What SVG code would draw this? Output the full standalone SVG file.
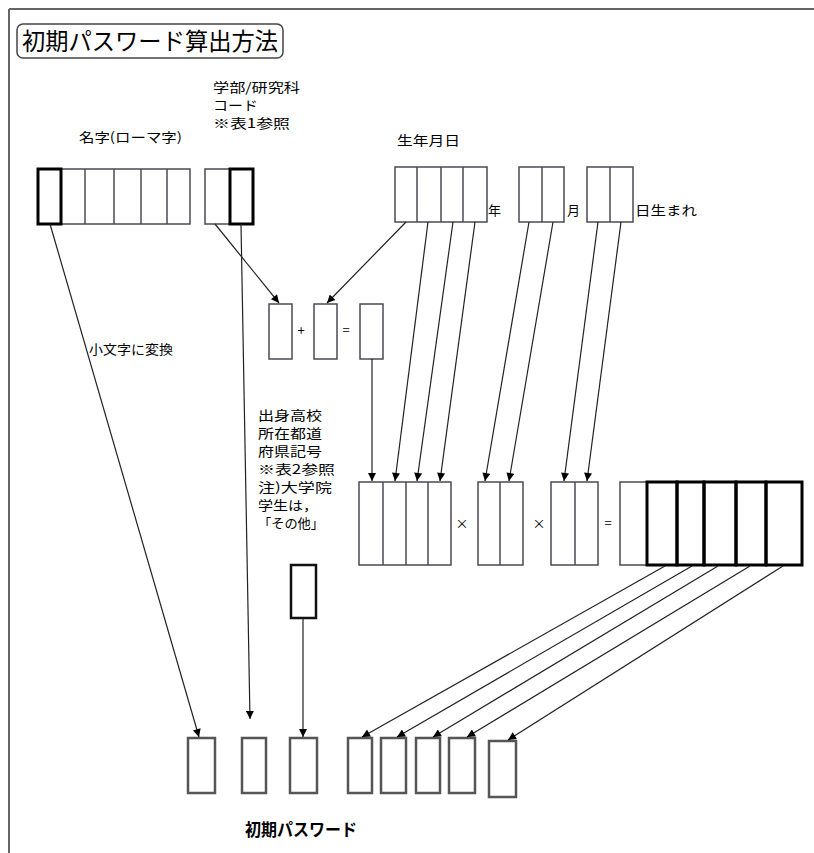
<svg xmlns="http://www.w3.org/2000/svg" width="814" height="853" viewBox="0 0 814 853">
<defs>
<style>
text{font-family:"Noto Sans CJK JP","Noto Sans",sans-serif;fill:#000;}
.lbl{font-size:13px;}
.cell{fill:#fff;stroke:#4a4a55;stroke-width:1.5;}
.div{stroke:#4a4a55;stroke-width:1.5;}
.thick{fill:none;stroke:#000;stroke-width:3;}
.out{fill:#fff;stroke:#555;stroke-width:2.5;}
.conn{stroke:#222;stroke-width:1.2;fill:none;marker-end:url(#ah);}
.op{font-size:13px;text-anchor:middle;}
</style>
<marker id="ah" viewBox="0 0 10 10" refX="10" refY="5" markerWidth="9" markerHeight="8" orient="auto" markerUnits="userSpaceOnUse">
<path d="M0,0 L10,5 L0,10 z" fill="#000"/>
</marker>
</defs>
<rect width="814" height="853" fill="#fff"/>
<g id="frame">
<line x1="9" y1="9" x2="814" y2="9" stroke="#666" stroke-width="2"/>
<line x1="9" y1="9" x2="9" y2="853" stroke="#666" stroke-width="2"/>
</g>
<g id="title">
<rect x="17" y="24" width="266" height="34" rx="6" fill="#fff" stroke="#444" stroke-width="1.5"/>
<text x="22" y="50" font-size="24" textLength="256" lengthAdjust="spacingAndGlyphs">初期パスワード算出方法</text>
</g>
<g id="label-code">
<text class="lbl" x="213" y="92" textLength="87" lengthAdjust="spacingAndGlyphs">学部/研究科</text>
<text class="lbl" x="213" y="110" textLength="45" lengthAdjust="spacingAndGlyphs">コード</text>
<text class="lbl" x="213" y="128" textLength="77" lengthAdjust="spacingAndGlyphs">※表1参照</text>
</g>
<g id="label-name">
<text class="lbl" x="79" y="142" textLength="103" lengthAdjust="spacingAndGlyphs">名字(ローマ字)</text>
</g>
<g id="label-birth">
<text class="lbl" x="397" y="145" textLength="63" lengthAdjust="spacingAndGlyphs">生年月日</text>
</g>
<g id="name-box">
<rect class="cell" x="38" y="169" width="152" height="55"/>
<line class="div" x1="85" y1="169" x2="85" y2="224"/>
<line class="div" x1="114" y1="169" x2="114" y2="224"/>
<line class="div" x1="141" y1="169" x2="141" y2="224"/>
<line class="div" x1="167" y1="169" x2="167" y2="224"/>
<rect class="thick" x="38" y="169" width="23" height="55"/>
</g>
<g id="code-box">
<rect class="cell" x="205" y="169" width="48" height="55"/>
<rect class="thick" x="230" y="169" width="23" height="55"/>
</g>
<g id="year-box">
<rect class="cell" x="395" y="167" width="92" height="55"/>
<line class="div" x1="417" y1="167" x2="417" y2="222"/>
<line class="div" x1="441" y1="167" x2="441" y2="222"/>
<line class="div" x1="463" y1="167" x2="463" y2="222"/>
<text class="lbl" x="488" y="215">年</text>
</g>
<g id="month-box">
<rect class="cell" x="519" y="167" width="45" height="55"/>
<line class="div" x1="542" y1="167" x2="542" y2="222"/>
<text class="lbl" x="567" y="215">月</text>
</g>
<g id="day-box">
<rect class="cell" x="587" y="167" width="46" height="55"/>
<line class="div" x1="610" y1="167" x2="610" y2="222"/>
<text class="lbl" x="635" y="215" textLength="62" lengthAdjust="spacingAndGlyphs">日生まれ</text>
</g>
<g id="sum">
<rect class="cell" x="269" y="304" width="23" height="55"/>
<text class="op" x="301" y="335">+</text>
<rect class="cell" x="314" y="304" width="23" height="55"/>
<text class="op" x="346" y="335">=</text>
<rect class="cell" x="360" y="304" width="23" height="55"/>
</g>
<g id="label-lower">
<text class="lbl" x="89" y="354" textLength="84" lengthAdjust="spacingAndGlyphs">小文字に変換</text>
</g>
<g id="label-school">
<text class="lbl" x="258" y="420" textLength="64" lengthAdjust="spacingAndGlyphs">出身高校</text>
<text class="lbl" x="258" y="438" textLength="64" lengthAdjust="spacingAndGlyphs">所在都道</text>
<text class="lbl" x="258" y="456" textLength="64" lengthAdjust="spacingAndGlyphs">府県記号</text>
<text class="lbl" x="258" y="474" textLength="77" lengthAdjust="spacingAndGlyphs">※表2参照</text>
<text class="lbl" x="258" y="492" textLength="74" lengthAdjust="spacingAndGlyphs">注)大学院</text>
<text class="lbl" x="258" y="510" textLength="60" lengthAdjust="spacingAndGlyphs">学生は，</text>
<text class="lbl" x="258" y="528" textLength="66" lengthAdjust="spacingAndGlyphs">「その他」</text>
</g>
<g id="product-year">
<rect class="cell" x="359" y="482" width="92" height="83"/>
<line class="div" x1="383" y1="482" x2="383" y2="565"/>
<line class="div" x1="406" y1="482" x2="406" y2="565"/>
<line class="div" x1="428" y1="482" x2="428" y2="565"/>
<text class="op" x="462" y="528">×</text>
</g>
<g id="product-month">
<rect class="cell" x="478" y="482" width="45" height="83"/>
<line class="div" x1="500" y1="482" x2="500" y2="565"/>
<text class="op" x="539" y="528">×</text>
</g>
<g id="product-day">
<rect class="cell" x="551" y="482" width="47" height="83"/>
<line class="div" x1="575" y1="482" x2="575" y2="565"/>
<text class="op" x="608" y="528">=</text>
</g>
<g id="result">
<rect class="cell" x="620" y="482" width="182" height="83"/>
<rect class="thick" x="647" y="482" width="30" height="83"/>
<rect class="thick" x="677" y="482" width="27" height="83"/>
<rect class="thick" x="704" y="482" width="32" height="83"/>
<rect class="thick" x="736" y="482" width="30" height="83"/>
<rect class="thick" x="766" y="482" width="36" height="83"/>
</g>
<g id="school-box">
<rect x="291" y="565" width="25" height="53" fill="#fff" stroke="#111" stroke-width="2.5"/>
</g>
<g id="password">
<rect class="out" x="188" y="738" width="27" height="55"/>
<rect class="out" x="242" y="738" width="24" height="55"/>
<rect class="out" x="290" y="738" width="27" height="55"/>
<rect class="out" x="348" y="738" width="24" height="55"/>
<rect class="out" x="381" y="738" width="25" height="55"/>
<rect class="out" x="416" y="738" width="24" height="55"/>
<rect class="out" x="449" y="738" width="26" height="55"/>
<rect class="out" x="489" y="741" width="27" height="56"/>
<text x="245" y="836" font-size="17" font-weight="bold" textLength="112" lengthAdjust="spacingAndGlyphs">初期パスワード</text>
</g>
<g id="connectors">
<line class="conn" x1="50" y1="224" x2="199" y2="737"/>
<line class="conn" x1="215" y1="224" x2="279" y2="303"/>
<line class="conn" x1="241" y1="224" x2="250" y2="719"/>
<line class="conn" x1="406" y1="222" x2="327" y2="303"/>
<line class="conn" x1="372" y1="359" x2="372" y2="481"/>
<line class="conn" x1="428" y1="222" x2="395" y2="481"/>
<line class="conn" x1="453" y1="222" x2="417" y2="481"/>
<line class="conn" x1="475" y1="222" x2="440" y2="481"/>
<line class="conn" x1="529" y1="222" x2="485" y2="481"/>
<line class="conn" x1="553" y1="222" x2="509" y2="481"/>
<line class="conn" x1="598" y1="222" x2="564" y2="481"/>
<line class="conn" x1="621" y1="222" x2="587" y2="481"/>
<line class="conn" x1="303" y1="618" x2="303" y2="737"/>
<line class="conn" x1="665" y1="566" x2="362" y2="737"/>
<line class="conn" x1="692" y1="566" x2="397" y2="737"/>
<line class="conn" x1="718" y1="566" x2="433" y2="737"/>
<line class="conn" x1="750" y1="566" x2="467" y2="737"/>
<line class="conn" x1="783" y1="566" x2="508" y2="740"/>
</g>
</svg>
